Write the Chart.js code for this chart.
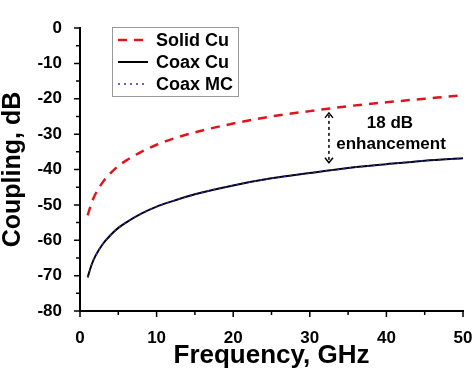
<!DOCTYPE html>
<html lang="en">
<head>
    <meta charset="UTF-8">
    <title>Coupling vs Frequency</title>
    <style>
        html, body { margin: 0; padding: 0; background: #fff; }
        #wrap { width: 474px; height: 368px; position: relative; }
    </style>
</head>
<body>
    <div id="wrap"><canvas id="chart" width="474" height="368"></canvas></div>

    <script src="https://cdn.jsdelivr.net/npm/chart.js@4.4.0/dist/chart.umd.min.js"></script>
    <script>
        // values
        const freqs    = [1, 1.5, 2, 3, 4, 5, 6, 8, 10, 12, 15, 20, 25, 30, 35, 40, 45, 50];
        const solidCu  = [-53, -49.5, -47, -43.5, -41, -39, -37.5, -35, -33, -31.4, -29.5, -27, -25, -23.5, -22.1, -21, -20, -19];
        const coaxCu   = [-70.5, -67, -64.5, -61, -58.5, -56.5, -55, -52.5, -50.5, -49, -47, -44.5, -42.5, -41, -39.6, -38.5, -37.5, -36.8];
        const coaxMC   = [-70.5, -67, -64.5, -61, -58.5, -56.5, -55, -52.5, -50.5, -49, -47, -44.5, -42.5, -41, -39.6, -38.5, -37.5, -36.8];
        const seriesNames = ['Solid Cu', 'Coax Cu', 'Coax MC'];
        const xTicks = [0, 10, 20, 30, 40, 50];
        const yTicks = [0, -10, -20, -30, -40, -50, -60, -70, -80];
        const arrowX = 32.5, arrowTop = -24, arrowBottom = -38.1;
        const noteLines = ['18 dB', 'enhancement'];

        const pts = vals => freqs.map((f, i) => ({ x: f, y: vals[i] }));
        const FAM = '"Liberation Sans", Arial, sans-serif';

        // outward major + minor ticks
        const tickPlugin = {
            id: 'ticks',
            afterDraw(chart) {
                const ctx = chart.ctx, xs = chart.scales.x, ys = chart.scales.y;
                ctx.save();
                ctx.strokeStyle = '#000';
                ctx.lineWidth = 1.5;
                ctx.beginPath();
                xTicks.forEach((v, i) => {
                    const px = xs.getPixelForValue(v);
                    ctx.moveTo(px, ys.bottom); ctx.lineTo(px, ys.bottom + 6);
                    if (i < xTicks.length - 1) {
                        const m = xs.getPixelForValue((v + xTicks[i + 1]) / 2);
                        ctx.moveTo(m, ys.bottom); ctx.lineTo(m, ys.bottom + 4);
                    }
                });
                yTicks.forEach((v, i) => {
                    const py = ys.getPixelForValue(v);
                    ctx.moveTo(xs.left, py); ctx.lineTo(xs.left - 6, py);
                    if (i < yTicks.length - 1) {
                        const m = ys.getPixelForValue((v + yTicks[i + 1]) / 2);
                        ctx.moveTo(xs.left, m); ctx.lineTo(xs.left - 4, m);
                    }
                });
                ctx.stroke();
                ctx.restore();
            }
        };

        // legend box + arrow annotation
        const extrasPlugin = {
            id: 'extras',
            afterDraw(chart) {
                const ctx = chart.ctx, xs = chart.scales.x, ys = chart.scales.y;
                ctx.save();
                // legend
                ctx.fillStyle = '#fff';
                ctx.fillRect(112, 27, 126, 69);
                ctx.strokeStyle = '#999';
                ctx.lineWidth = 1;
                ctx.strokeRect(112.5, 27.5, 126, 69);
                chart.data.datasets.forEach((ds, i) => {
                    const y = 40 + i * 22;
                    ctx.beginPath();
                    ctx.strokeStyle = ds.borderColor;
                    ctx.lineWidth = ds.borderWidth;
                    ctx.setLineDash(ds.borderDash || []);
                    ctx.moveTo(118, y); ctx.lineTo(148, y);
                    ctx.stroke();
                    ctx.setLineDash([]);
                    ctx.fillStyle = '#000';
                    ctx.font = 'bold 18px ' + FAM;
                    ctx.textBaseline = 'middle';
                    ctx.textAlign = 'left';
                    ctx.fillText(seriesNames[i], 156, y + 1);
                });
                // arrow
                const ax = xs.getPixelForValue(arrowX);
                const y1 = ys.getPixelForValue(arrowTop), y2 = ys.getPixelForValue(arrowBottom);
                ctx.strokeStyle = '#000';
                ctx.lineWidth = 1.5;
                ctx.setLineDash([3, 3]);
                ctx.beginPath();
                ctx.moveTo(ax, y1 + 2); ctx.lineTo(ax, y2 - 2);
                ctx.stroke();
                ctx.setLineDash([]);
                ctx.beginPath();
                ctx.moveTo(ax - 4, y1 + 5); ctx.lineTo(ax, y1); ctx.lineTo(ax + 4, y1 + 5);
                ctx.moveTo(ax - 4, y2 - 5); ctx.lineTo(ax, y2); ctx.lineTo(ax + 4, y2 - 5);
                ctx.stroke();
                ctx.fillStyle = '#000';
                ctx.font = 'bold 17px ' + FAM;
                ctx.textAlign = 'center';
                ctx.textBaseline = 'middle';
                ctx.fillText(noteLines[0], 390, 123);
                ctx.fillText(noteLines[1], 391, 144);
                ctx.restore();
            }
        };

        new Chart(document.getElementById('chart'), {
            type: 'line',
            data: {
                datasets: [
                    { label: seriesNames[0], data: pts(solidCu), borderColor: '#e0141e', borderWidth: 2.5, borderDash: [9, 7], order: 2 },
                    { label: seriesNames[1], data: pts(coaxCu), borderColor: '#000', borderWidth: 2, order: 1 },
                    { label: seriesNames[2], data: pts(coaxMC), borderColor: '#2b2bc8', borderWidth: 1.5, borderDash: [2, 4], order: 0 }
                ]
            },
            options: {
                responsive: false,
                animation: false,
                cubicInterpolationMode: 'monotone',
                elements: { point: { radius: 0 } },
                layout: { padding: { top: 28, right: 11 } },
                plugins: { legend: { display: false }, tooltip: { enabled: false } },
                scales: {
                    x: {
                        type: 'linear', min: 0, max: 50,
                        afterFit: s => { s.height = 57; s.paddingRight = 0; s.paddingLeft = 0; },
                        afterBuildTicks: s => { s.ticks = xTicks.map(v => ({ value: v })); },
                        grid: { display: false },
                        border: { display: true, color: '#000', width: 2 },
                        ticks: { color: '#000', font: { size: 17, weight: 'bold', family: FAM }, padding: 9, maxRotation: 0 },
                        title: { display: true, text: 'Frequency, GHz', color: '#000', font: { size: 26, weight: 'bold', family: FAM, lineHeight: 0.95 }, padding: { top: 0, bottom: 0 } }
                    },
                    y: {
                        min: -80, max: 0,
                        afterFit: s => { s.width = 80; s.paddingTop = 0; s.paddingBottom = 0; },
                        afterBuildTicks: s => { s.ticks = yTicks.map(v => ({ value: v })); },
                        grid: { display: false },
                        border: { display: true, color: '#000', width: 2 },
                        ticks: { color: '#000', font: { size: 17, weight: 'bold', family: FAM }, padding: 10 },
                        title: { display: true, text: 'Coupling, dB', color: '#000', font: { size: 25, weight: 'bold', family: FAM, lineHeight: 1.05 }, padding: { top: 0, bottom: 0 } }
                    }
                }
            },
            plugins: [tickPlugin, extrasPlugin]
        });
    </script>
</body>
</html>
